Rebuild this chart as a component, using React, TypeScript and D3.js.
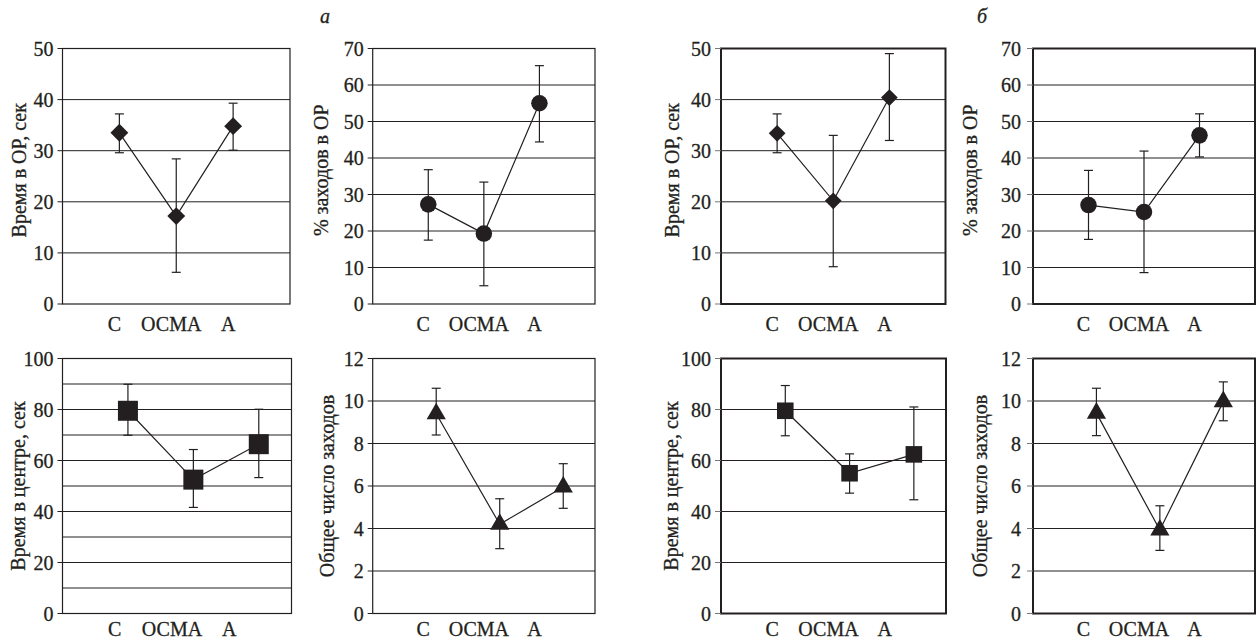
import React from 'react';
import * as d3 from 'd3';

// categories on the x axis
const categories = ['С', 'ОСМА', 'А'];

// panel а
const timeOrA = [33.5, 17.2, 34.8];
const timeOrAHi = [37.2, 28.4, 39.3];
const timeOrALo = [29.6, 6.2, 30.1];

const entriesOrA = [27.3, 19.3, 55.0];
const entriesOrAHi = [36.8, 33.4, 65.3];
const entriesOrALo = [17.5, 5.0, 44.4];

const timeCenterA = [79.5, 52.5, 66.4];
const timeCenterAHi = [89.9, 64.3, 80.1];
const timeCenterALo = [69.9, 41.6, 53.3];

const totalEntriesA = [9.4, 4.2, 5.95];
const totalEntriesAHi = [10.6, 5.4, 7.05];
const totalEntriesALo = [8.4, 3.05, 4.95];

// panel б
const timeOrB = [33.4, 20.2, 40.4];
const timeOrBHi = [37.2, 33.0, 49.0];
const timeOrBLo = [29.6, 7.3, 32.0];

const entriesOrB = [27.1, 25.2, 46.2];
const entriesOrBHi = [36.6, 41.9, 52.1];
const entriesOrBLo = [17.7, 8.6, 40.3];

const timeCenterB = [79.5, 55.0, 62.4];
const timeCenterBHi = [89.4, 62.6, 81.0];
const timeCenterBLo = [69.7, 47.2, 44.6];

const totalEntriesB = [9.43, 3.93, 9.97];
const totalEntriesBHi = [10.6, 5.07, 10.9];
const totalEntriesBLo = [8.37, 2.97, 9.07];

const INK = '#231f20';
const FONT = 'Liberation Serif, Tinos, Times New Roman, Times, Noto Serif, DejaVu Serif, serif';
const textStyle = { fontFamily: FONT, fontSize: 20, stroke: INK, strokeWidth: 0.3 };

const TOP = { top: 48.5, bottom: 304, labelDy: 26.5, titleDy: -6, pts: [0.25, 0.75] };
const BOT = { top: 358.5, bottom: 613.5, labelDy: 22, titleDy: 0, pts: [2 / 7, 6 / 7] };

const panels = [
  { row: TOP, left: 62.5, right: 290, max: 50, tick: 10, grid: 10, title: 'Время в ОР, сек',
    mean: timeOrA, hi: timeOrAHi, lo: timeOrALo, marker: 'diamond', msize: 160, heavy: false, titleDx: 44, tickPad: 8 },
  { row: TOP, left: 372.7, right: 595, max: 70, tick: 10, grid: 10, title: '% заходов в ОР',
    mean: entriesOrA, hi: entriesOrAHi, lo: entriesOrALo, marker: 'circle', msize: 215, heavy: false, titleDx: 52, tickPad: 8 },
  { row: TOP, left: 721, right: 945.5, max: 50, tick: 10, grid: 10, title: 'Время в ОР, сек',
    mean: timeOrB, hi: timeOrBHi, lo: timeOrBLo, marker: 'diamond', msize: 140, heavy: true, titleDx: 49, tickPad: 8 },
  { row: TOP, left: 1033, right: 1255, max: 70, tick: 10, grid: 10, title: '% заходов в ОР',
    mean: entriesOrB, hi: entriesOrBHi, lo: entriesOrBLo, marker: 'circle', msize: 215, heavy: true, titleDx: 63, tickPad: 10 },
  { row: BOT, left: 62.5, right: 291.5, max: 100, tick: 20, grid: 10, title: 'Время в центре, сек',
    mean: timeCenterA, hi: timeCenterAHi, lo: timeCenterALo, marker: 'square', msize: 400, heavy: false, titleDx: 45, tickPad: 8 },
  { row: BOT, left: 372.7, right: 595, max: 12, tick: 2, grid: 2, title: 'Общее число заходов',
    mean: totalEntriesA, hi: totalEntriesAHi, lo: totalEntriesALo, marker: 'triangle', msize: 160, heavy: false, titleDx: 46, tickPad: 8 },
  { row: BOT, left: 721, right: 946, max: 100, tick: 20, grid: 20, title: 'Время в центре, сек',
    mean: timeCenterB, hi: timeCenterBHi, lo: timeCenterBLo, marker: 'square', msize: 275, heavy: true, titleDx: 50, tickPad: 8 },
  { row: BOT, left: 1033, right: 1255, max: 12, tick: 2, grid: 2, title: 'Общее число заходов',
    mean: totalEntriesB, hi: totalEntriesBHi, lo: totalEntriesBLo, marker: 'triangle', msize: 160, heavy: true, titleDx: 53, tickPad: 10 },
];

const symbolTypes: Record<string, d3.SymbolType> = {
  diamond: d3.symbolSquare,
  circle: d3.symbolCircle,
  square: d3.symbolSquare,
  triangle: d3.symbolTriangle,
};

function Panel({ cfg }: { cfg: any }) {
  const { row, left, right } = cfg;
  const w = right - left;
  const y = d3.scaleLinear().domain([0, cfg.max]).range([row.bottom, row.top]);
  const x = d3
    .scalePoint<string>()
    .domain(categories)
    .range([left + w * row.pts[0], left + w * row.pts[1]]);
  // category labels sit centred under the plot, independent of the points
  const xl = d3.scalePoint<string>().domain(categories).range([left, right]).padding(1);

  const ticks = d3.range(0, cfg.max + cfg.tick / 2, cfg.tick);
  const grid = d3.range(cfg.grid, cfg.max, cfg.grid);
  const line = d3
    .line<number>()
    .x((_, i) => x(categories[i]) as number)
    .y((d) => y(d));
  const sym = d3.symbol().type(symbolTypes[cfg.marker]).size(cfg.msize)();
  const sw = cfg.heavy ? 2 : 1.2;
  const tickLen = cfg.heavy ? 6 : 5;
  const cap = 4.5;

  return (
    <g>
      {grid.map((g) => (
        <line key={g} x1={left} x2={right} y1={y(g)} y2={y(g)} stroke={INK} strokeWidth={1} />
      ))}
      <rect x={left} y={row.top} width={w} height={row.bottom - row.top} fill="none" stroke={INK} strokeWidth={sw} />
      {ticks.map((t) => (
        <g key={t}>
          <line x1={left - tickLen} x2={left} y1={y(t)} y2={y(t)} stroke={cfg.heavy ? '#777' : INK} strokeWidth={1} />
          <text
            x={left - tickLen - cfg.tickPad + 4}
            y={y(t)}
            dy="0.35em"
            textAnchor="end"
            style={textStyle}
            fill={INK}
          >
            {t}
          </text>
        </g>
      ))}
      {categories.map((c) => (
        <text
          key={c}
          x={(xl(c) as number) - 5}
          y={row.bottom + row.labelDy}
          textAnchor="middle"
          style={textStyle}
          fill={INK}
        >
          {c}
        </text>
      ))}
      <text
        transform={`translate(${left - cfg.titleDx},${(row.top + row.bottom) / 2 + row.titleDy}) rotate(-90)`}
        dy="0.35em"
        textAnchor="middle"
        style={textStyle}
        fill={INK}
      >
        {cfg.title}
      </text>
      {categories.map((c, i) => (
        <g key={c} stroke={INK} strokeWidth={1.2}>
          <line x1={x(c)} x2={x(c)} y1={y(cfg.hi[i])} y2={y(cfg.lo[i])} />
          <line x1={(x(c) as number) - cap} x2={(x(c) as number) + cap} y1={y(cfg.hi[i])} y2={y(cfg.hi[i])} />
          <line x1={(x(c) as number) - cap} x2={(x(c) as number) + cap} y1={y(cfg.lo[i])} y2={y(cfg.lo[i])} />
        </g>
      ))}
      <path d={line(cfg.mean) as string} fill="none" stroke={INK} strokeWidth={1.2} />
      {categories.map((c, i) => (
        <path
          key={c}
          d={sym as string}
          transform={`translate(${x(c)},${y(cfg.mean[i])})${cfg.marker === 'diamond' ? ' rotate(45)' : ''}`}
          fill={INK}
        />
      ))}
    </g>
  );
}

export default function App() {
  return (
    <svg
      width={1256}
      height={639}
      style={{ position: 'absolute', left: 0, top: 0, display: 'block', background: '#fff' }}
    >
      <text x={325} y={23} style={{ ...textStyle, fontStyle: 'italic' }} fill={INK} textAnchor="middle">
        а
      </text>
      <text x={982} y={23} style={{ ...textStyle, fontStyle: 'italic' }} fill={INK} textAnchor="middle">
        б
      </text>
      {panels.map((p, i) => (
        <Panel key={i} cfg={p} />
      ))}
    </svg>
  );
}
